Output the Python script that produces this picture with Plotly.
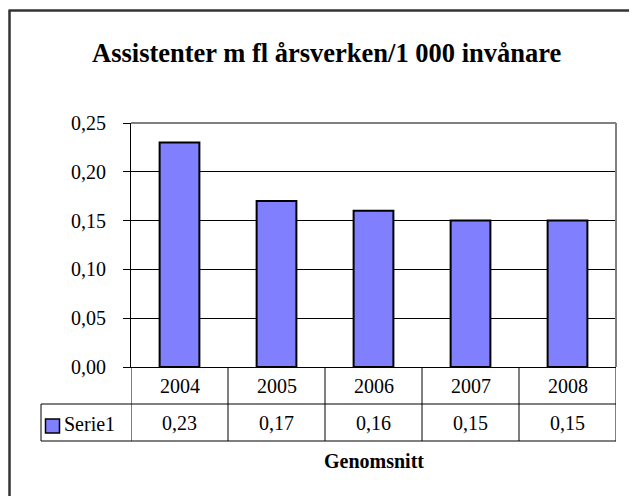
import plotly.graph_objects as go

# ---- data ----
years = ["2004", "2005", "2006", "2007", "2008"]
values = [0.23, 0.17, 0.16, 0.15, 0.15]
series_name = "Serie1"
title_text = "Assistenter m fl årsverken/1 000 invånare"
xlabel_text = "Genomsnitt"
y_ticks = [0.00, 0.05, 0.10, 0.15, 0.20, 0.25]

# ---- layout geometry (pixels, in screenshot coordinates) ----
OFF = 8  # page body margin offset
W, H = 637 - 2 * OFF, 504 - 2 * OFF  # avoid page scrollbars
X0, X1, Y0, Y1 = 131, 616, 123, 367
PW, PH = X1 - X0, Y1 - Y0


def px(x):
    return (x - X0) / PW


def py(y):
    return (Y1 - y) / PH


FONT = "Liberation Serif"
BAR_COLOR = "#8080FF"

fig = go.Figure()
fig.add_trace(go.Bar(
    x=list(range(len(years))), y=values, name=series_name,
    marker=dict(color=BAR_COLOR, line=dict(color="black", width=2)),
    showlegend=False, hoverinfo="skip",
))

shapes = []
# outer chart frame (cropped at right/bottom)
shapes.append(dict(type="line", xref="paper", yref="paper", x0=px(9.5), x1=px(9.5),
                   y0=py(510), y1=py(10.5), line=dict(color="#333333", width=2.5)))
shapes.append(dict(type="line", xref="paper", yref="paper", x0=px(8.5), x1=px(645),
                   y0=py(10.5), y1=py(10.5), line=dict(color="#333333", width=2.5)))
# plot area border top/right (gray)
shapes.append(dict(type="line", xref="paper", yref="paper", x0=0, x1=1, y0=1, y1=1,
                   line=dict(color="#808080", width=2)))
shapes.append(dict(type="line", xref="paper", yref="paper", x0=1, x1=1, y0=0, y1=1,
                   line=dict(color="#808080", width=2)))
# data table
row_mid, row_bot = 404, 441
shapes.append(dict(type="line", xref="paper", yref="paper", x0=px(41), x1=1,
                   y0=py(row_mid), y1=py(row_mid), line=dict(color="black", width=1)))
shapes.append(dict(type="line", xref="paper", yref="paper", x0=px(41), x1=1,
                   y0=py(row_bot), y1=py(row_bot), line=dict(color="black", width=1)))
shapes.append(dict(type="line", xref="paper", yref="paper", x0=px(41), x1=px(41),
                   y0=py(row_mid), y1=py(row_bot), line=dict(color="black", width=1)))
for i in range(len(years) + 1):
    shapes.append(dict(type="line", xref="x", yref="paper", x0=i - 0.5, x1=i - 0.5,
                       y0=0, y1=py(row_bot), line=dict(color="black", width=1)))
# legend key box
shapes.append(dict(type="rect", xref="paper", yref="paper", x0=px(45.5), x1=px(59.5),
                   y0=py(433), y1=py(419), fillcolor=BAR_COLOR,
                   line=dict(color="black", width=1.5)))

annotations = []
for i, (yr, v) in enumerate(zip(years, values)):
    annotations.append(dict(x=i, y=py(385.5), xref="x", yref="paper", text=yr,
                            showarrow=False, xanchor="center", yanchor="middle",
                            font=dict(family=FONT, size=20, color="black")))
    annotations.append(dict(x=i, y=py(422.5), xref="x", yref="paper",
                            text=f"{v:.2f}".replace(".", ","),
                            showarrow=False, xanchor="center", yanchor="middle",
                            font=dict(family=FONT, size=20, color="black")))
annotations.append(dict(x=px(62), y=py(424), xref="paper", yref="paper", text=series_name,
                        showarrow=False, xanchor="left", yanchor="middle",
                        font=dict(family=FONT, size=20, color="black")))
annotations.append(dict(x=px(373.5), y=py(461), xref="paper", yref="paper",
                        text=f"<b>{xlabel_text}</b>", showarrow=False,
                        xanchor="center", yanchor="middle",
                        font=dict(family=FONT, size=20, color="black")))
annotations.append(dict(x=px(327), y=py(53), xref="paper", yref="paper",
                        text=f"<b>{title_text}</b>", showarrow=False,
                        xanchor="center", yanchor="middle",
                        font=dict(family=FONT, size=26.5, color="black")))

fig.update_layout(
    width=W, height=H,
    margin=dict(l=X0 - OFF, r=W - (X1 - OFF), t=Y0 - OFF, b=H - (Y1 - OFF), pad=0),
    paper_bgcolor="white", plot_bgcolor="white",
    separators=", ",
    bargap=0.59,
    shapes=shapes, annotations=annotations,
    xaxis=dict(range=[-0.5, len(years) - 0.5], showticklabels=False, ticks="",
               showgrid=False, zeroline=False, showline=True, linecolor="black",
               linewidth=1, fixedrange=True),
    yaxis=dict(range=[0, 0.25], tickvals=y_ticks, tickformat=".2f",
               ticks="outside", ticklen=7, tickcolor="black", tickwidth=1,
               showline=True, linecolor="black", linewidth=1,
               showgrid=True, gridcolor="black", gridwidth=1, zeroline=False,
               ticklabelstandoff=13,
               tickfont=dict(family=FONT, size=20, color="black"), fixedrange=True),
    showlegend=False,
)

fig.write_html("out.html")
